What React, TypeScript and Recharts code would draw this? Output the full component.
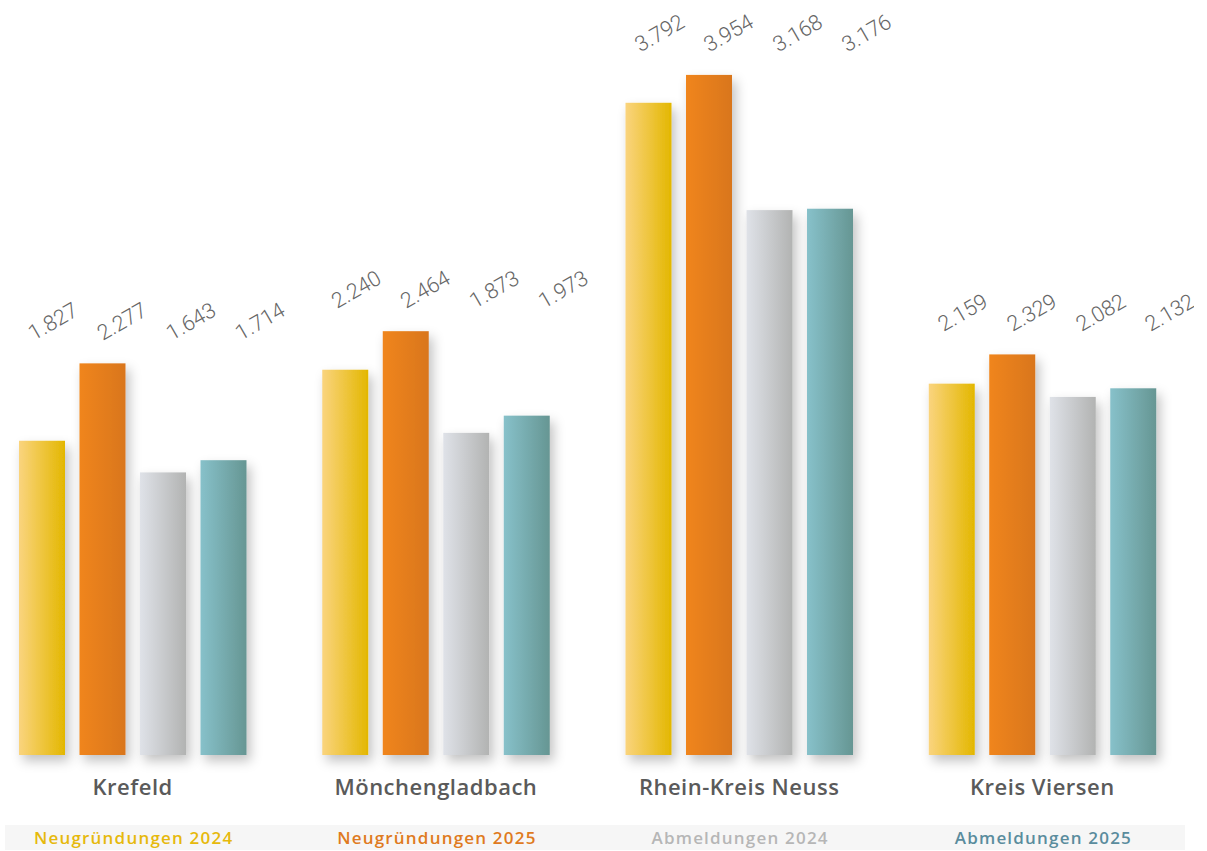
import React from 'react'
import { BarChart, Bar, XAxis, YAxis, LabelList } from 'recharts'

const regions = ['Krefeld', 'Mönchengladbach', 'Rhein-Kreis Neuss', 'Kreis Viersen']
const neu2024 = [1827, 2240, 3792, 2159]
const neu2025 = [2277, 2464, 3954, 2329]
const ab2024 = [1643, 1873, 3168, 2082]
const ab2025 = [1714, 1973, 3176, 2132]

const series = [
  { key: 'neu2024', name: 'Neugründungen 2024', from: '#fad47e', to: '#e3b700', text: '#e6b90c' },
  { key: 'neu2025', name: 'Neugründungen 2025', from: '#f0851a', to: '#d9761f', text: '#df7a20' },
  { key: 'ab2024', name: 'Abmeldungen 2024', from: '#dfe2e8', to: '#b2b3b2', text: '#b6b6b6' },
  { key: 'ab2025', name: 'Abmeldungen 2025', from: '#87c1ca', to: '#669693', text: '#5a8c9d' },
]

const data = regions.map((region, i) => ({
  region,
  neu2024: neu2024[i],
  neu2025: neu2025[i],
  ab2024: ab2024[i],
  ab2025: ab2025[i],
}))

const CHART_LEFT = -19
const CHART_WIDTH = 1213
const CHART_HEIGHT = 851

const fmt = (v: number) => {
  const s = String(v)
  return s.length > 3 ? s.slice(0, s.length - 3) + '.' + s.slice(-3) : s
}

// value labels sit above the tallest bar of each group, slightly fanned out
const makeLabel = (seriesIndex: number) => (props: any) => {
  const vb = props.viewBox ?? props
  const x = props.x ?? vb.x
  const y = props.y ?? vb.y
  const width = props.width ?? vb.width
  const height = props.height ?? vb.height
  const value = Number(props.value)
  const row: any = data[props.index]
  if (!row || !value) return null
  const base = y + height
  const perUnit = height / value
  const groupMax = Math.max(...series.map((s) => row[s.key]))
  const top = base - groupMax * perUnit
  const cx = x + width / 2 + 11 + 8.5 * seriesIndex
  const cy = top - 42
  return (
    <text
      x={cx}
      y={cy}
      textAnchor="middle"
      dominantBaseline="central"
      transform={`rotate(-30 ${cx} ${cy})`}
      fill="#666"
      fontSize={21.5}
      fontWeight={300}
      fontFamily="Roboto, sans-serif"
    >
      {fmt(value)}
    </text>
  )
}

const RegionTick = (props: any) => {
  const { x, y, payload } = props
  return (
    <text
      x={x}
      y={y + 40}
      textAnchor="middle"
      fill="#5a5a5a"
      fontSize={22}
      fontWeight={600}
      letterSpacing={0.5}
      fontFamily="'Open Sans', sans-serif"
    >
      {payload.value}
    </text>
  )
}

const BarShape = (props: any) => {
  const { x, y, width, height, fill } = props
  if (!height || height <= 0) return null
  return <rect x={x} y={y} width={width} height={height} fill={fill} filter="url(#barShadow)" />
}

export default function App() {
  const band = CHART_WIDTH / regions.length
  return (
    <div style={{ position: 'absolute', left: 0, top: 0, width: 1207, height: 851, overflow: 'hidden', background: '#fff' }}>
      <div style={{ position: 'absolute', left: CHART_LEFT, top: 0 }}>
        <BarChart
          width={CHART_WIDTH}
          height={CHART_HEIGHT}
          data={data}
          margin={{ top: 67, right: 0, left: 0, bottom: 56 }}
          barCategoryGap={38}
          barGap={14.5}
        >
          <defs>
            {series.map((s) => (
              <linearGradient key={s.key} id={`grad-${s.key}`} x1="0" y1="0" x2="1" y2="0">
                <stop offset="0%" stopColor={s.from} />
                <stop offset="100%" stopColor={s.to} />
              </linearGradient>
            ))}
            <filter id="barShadow" x="-40%" y="-10%" width="190%" height="130%">
              <feDropShadow dx="4" dy="6" stdDeviation="6" floodColor="#000" floodOpacity="0.24" />
            </filter>
          </defs>
          <XAxis
            dataKey="region"
            axisLine={false}
            tickLine={false}
            tickSize={0}
            tickMargin={0}
            height={40}
            interval={0}
            tick={<RegionTick />}
          />
          <YAxis hide domain={[0, 4000]} />
          {series.map((s, i) => (
            <Bar
              key={s.key}
              dataKey={s.key}
              name={s.name}
              fill={`url(#grad-${s.key})`}
              shape={<BarShape />}
              isAnimationActive={false}
            >
              <LabelList dataKey={s.key} content={makeLabel(i)} />
            </Bar>
          ))}
        </BarChart>
      </div>
      <div
        style={{
          position: 'absolute',
          left: 5,
          top: 825,
          width: 1180,
          height: 25,
          background: '#f6f6f6',
        }}
      >
        {series.map((s, i) => (
          <span
            key={s.key}
            style={{
              position: 'absolute',
              left: CHART_LEFT + band * (i + 0.5) - 4,
              top: 0,
              transform: 'translateX(-50%)',
              whiteSpace: 'nowrap',
              lineHeight: '25px',
              color: s.text,
              fontSize: 17,
              fontWeight: 600,
              letterSpacing: 1.2,
              fontFamily: "'Open Sans', sans-serif",
            }}
          >
            {s.name}
          </span>
        ))}
      </div>
    </div>
  )
}
